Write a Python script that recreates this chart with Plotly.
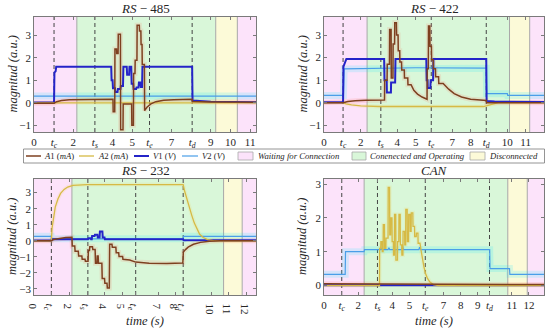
import numpy as np
import plotly.graph_objects as go

W, H = 550, 332

# ---------------- data ----------------
# event times per panel: t_c, t_s, t_e, t_d
RS485_EVENTS = [1.02, 3.10, 5.88, 8.05]
RS422_EVENTS = [1.04, 3.10, 5.85, 8.85]
RS232_EVENTS = [0.98, 3.04, 5.74, 8.42]
CAN_EVENTS = [1.04, 3.13, 5.93, 9.69]

# phase boundaries: waiting | connected & operating | disconnected | waiting
RS485_PHASES = [0, 2.18, 9.25, 10.35, 11.3]
RS422_PHASES = [0, 2.35, 10.12, 11.22, 12.0]
RS232_PHASES = [0, 2.14, 10.70, 11.75, 12.53]
CAN_PHASES = [0, 2.35, 10.76, 11.90, 12.88]

RS485_XTICKS = [0, 2, 4, 5, 7, 9, 10, 11]
RS422_XTICKS = [0, 2, 4, 5, 7, 8, 10, 11]
RS232_XTICKS = [0, 2, 4, 5, 7, 8, 10, 11, 12]
CAN_XTICKS = [0, 2, 4, 5, 7, 8, 9, 11, 12]

RS485_YTICKS = [-1, 0, 1, 2, 3]
RS422_YTICKS = [-1, 0, 1, 2, 3]
RS232_YTICKS = [-3, -2, -1, 0, 1, 2, 3]
CAN_YTICKS = [0, 1, 2, 3]

RS485_YRANGE = [-1.3, 3.82]
RS422_YRANGE = [-1.3, 3.80]
RS232_YRANGE = [-3.38, 3.85]
CAN_YRANGE = [-0.28, 3.15]

EVENT_TEXT = ["<i>t</i><sub><i>c</i></sub>", "<i>t</i><sub><i>s</i></sub>",
              "<i>t</i><sub><i>e</i></sub>", "<i>t</i><sub><i>d</i></sub>"]

# ---- RS-485 ----
RS485_A1 = [(0, -0.02), (1.02, -0.02), (1.15, 0.05), (1.4, 0.1), (1.8, 0.14), (2.3, 0.15),
            (4.02, 0.16), (4.03, -0.4), (4.11, -0.4), (4.12, 2.4), (4.2, 2.4), (4.21, 2.2),
            (4.28, 2.2), (4.29, 3.05), (4.4, 3.05), (4.41, -1.2), (4.53, -1.2), (4.54, -0.05),
            (4.97, -0.05), (4.98, -1.0), (5.06, -1.0), (5.07, 1.3), (5.14, 1.3), (5.15, 1.9),
            (5.24, 1.9), (5.25, 3.45), (5.36, 3.45), (5.37, 3.2), (5.44, 3.2), (5.45, 2.6),
            (5.5, 2.6), (5.51, 1.7), (5.62, 1.7), (5.63, -0.35), (5.75, -0.2), (5.95, -0.05),
            (6.2, 0.05), (6.6, 0.11), (7.1, 0.14), (8.05, 0.16), (8.07, 0.06), (9.0, 0.04),
            (11.3, 0.02)]
RS485_A2 = [(0, 0.0), (1.02, 0.0), (1.2, 0.02), (8.05, 0.02), (8.3, 0.0), (11.3, 0.0)]
RS485_V1 = [(0, 0.01), (1.02, 0.01), (1.04, 1.35), (1.1, 1.4), (1.13, 1.6), (3.93, 1.6),
            (3.95, 1.0), (4.0, 1.0), (4.02, 0.65), (4.12, 0.65), (4.14, 0.48), (4.25, 0.48),
            (4.27, 0.62), (4.4, 0.62), (4.42, 0.75), (4.53, 0.75), (4.55, 1.6), (4.72, 1.6),
            (4.74, 1.25), (4.84, 1.25), (4.86, 1.6), (4.95, 1.6), (4.97, 0.85), (5.05, 0.85),
            (5.07, 0.62), (5.2, 0.62), (5.22, 0.68), (5.32, 0.68), (5.34, 0.9), (5.42, 0.9),
            (5.44, 0.7), (5.5, 0.7), (5.52, 1.6), (8.05, 1.6), (8.07, 0.1), (9.0, 0.05),
            (11.3, 0.03)]
RS485_V2 = [(0, 0.3), (11.3, 0.3)]

# ---- RS-422 ----
RS422_A1 = [(0, 0.0), (1.04, 0.0), (1.3, 0.05), (1.7, 0.09), (2.3, 0.11), (3.3, 0.12),
            (3.31, 1.0), (3.44, 1.0), (3.45, 1.7), (3.57, 1.7), (3.58, 3.25), (3.66, 3.25),
            (3.67, 1.1), (3.76, 1.1), (3.77, 2.6), (3.85, 2.6), (3.86, 3.55), (3.95, 3.55),
            (3.96, 3.0), (4.04, 3.0), (4.05, 2.3), (4.13, 2.3), (4.14, 1.8), (4.23, 1.8),
            (4.24, 1.45), (4.38, 1.45), (4.39, 1.1), (4.57, 1.1), (4.58, 0.8), (4.75, 0.8),
            (4.9, 0.55), (5.1, 0.38), (5.35, 0.25), (5.62, 0.15), (5.63, 1.5), (5.69, 1.5),
            (5.7, 3.4), (5.77, 3.4), (5.78, 2.5), (5.86, 2.5), (5.87, 1.9), (5.96, 1.9),
            (5.97, 1.5), (6.08, 1.5), (6.09, 1.15), (6.25, 1.15), (6.26, 0.85), (6.5, 0.85),
            (6.8, 0.6), (7.1, 0.4), (7.5, 0.25), (8.0, 0.15), (8.85, 0.1), (8.87, 0.0),
            (12.0, 0.0)]
RS422_A2 = [(0, 0.0), (1.04, 0.0), (1.2, -0.05), (1.5, -0.1), (2.0, -0.14), (3.0, -0.17),
            (8.7, -0.17), (9.0, -0.1), (9.3, -0.02), (9.5, 0.0), (12.0, 0.0)]
RS422_V1 = [(0, 0.02), (1.04, 0.02), (1.06, 1.6), (1.15, 1.75), (1.22, 1.94), (3.28, 1.94),
            (3.3, 1.0), (3.42, 1.0), (3.43, 0.45), (3.65, 0.45), (3.66, 0.9), (3.88, 0.9),
            (3.9, 1.94), (5.58, 1.94), (5.6, 1.0), (5.65, 1.0), (5.66, 0.65), (5.8, 0.65),
            (5.82, 1.0), (5.95, 1.0), (5.97, 1.94), (8.85, 1.94), (8.87, 0.08), (9.3, 0.05),
            (12.0, 0.03)]
RS422_V2 = [(0, 0.32), (1.06, 0.32), (1.1, 1.5), (3.0, 1.52), (5.0, 1.55), (8.85, 1.53),
            (8.87, 0.4), (10.0, 0.4), (10.02, 0.32), (12.0, 0.32)]

# ---- RS-232 ----
RS232_A1 = [(0, 0.0), (0.98, 0.0), (1.1, 0.08), (1.4, 0.14), (1.8, 0.2), (2.14, 0.22),
            (2.16, -0.33), (2.3, -0.33), (2.32, -0.65), (2.5, -0.65), (2.52, -0.95),
            (2.7, -0.95), (2.72, -1.15), (2.88, -1.15), (2.9, -1.28), (3.05, -1.28),
            (3.07, -0.6), (3.13, -0.6), (3.15, -0.38), (3.3, -0.38), (3.32, -0.55),
            (3.45, -0.55), (3.47, -1.4), (3.55, -1.4), (3.57, -0.95), (3.62, -0.95),
            (3.64, -1.4), (3.83, -1.4), (3.85, -2.35), (3.98, -2.35), (4.0, -2.65),
            (4.12, -2.65), (4.14, -2.95), (4.25, -2.95), (4.27, -0.22), (4.4, -0.22),
            (4.42, -0.4), (4.62, -0.4), (4.64, -0.75), (4.78, -0.75), (4.8, -0.98),
            (5.0, -0.98), (5.02, -1.15), (5.4, -1.2), (5.74, -1.33), (6.5, -1.4),
            (7.5, -1.42), (8.4, -1.38), (8.43, -0.7), (8.55, -0.55), (8.7, -0.4),
            (9.0, -0.22), (9.4, -0.1), (9.9, -0.03), (10.5, 0.0), (12.53, 0.0)]
RS232_A2 = [(0, 0.0), (0.98, 0.0), (1.02, 0.8), (1.1, 1.5), (1.2, 2.1), (1.35, 2.6),
            (1.5, 2.95), (1.7, 3.2), (1.9, 3.35), (2.2, 3.45), (3.0, 3.5), (6.0, 3.5),
            (8.42, 3.5), (8.5, 3.1), (8.6, 2.7), (8.75, 2.2), (8.9, 1.6), (9.05, 1.1),
            (9.2, 0.7), (9.35, 0.4), (9.55, 0.2), (9.8, 0.07), (10.2, 0.0), (12.53, 0.0)]
RS232_V1 = [(0, 0.02), (0.98, 0.02), (1.0, 0.1), (3.05, 0.1), (3.07, 0.15), (3.2, 0.15),
            (3.22, 0.1), (3.26, 0.1), (3.28, 0.3), (3.42, 0.3), (3.44, 0.38), (3.58, 0.38),
            (3.6, 0.2), (3.7, 0.2), (3.72, 0.58), (3.86, 0.58), (3.88, 0.2), (3.98, 0.2),
            (4.0, 0.1), (8.42, 0.1), (8.44, 0.03), (12.53, 0.03)]
RS232_V2 = [(0, 0.28), (0.98, 0.28), (1.0, 0.12), (8.42, 0.12), (8.44, 0.28), (12.53, 0.28)]

# ---- CAN ----
CAN_A1 = [(0, 0.05), (3.2, 0.05), (5.0, 0.03), (12.88, 0.03)]
CAN_A2 = [(0, 0.0), (3.25, 0.0), (3.26, 1.1), (3.32, 1.1), (3.33, 1.3), (3.4, 1.3),
          (3.41, 1.0), (3.46, 1.0), (3.47, 1.8), (3.54, 1.8), (3.55, 1.1), (3.62, 1.1),
          (3.63, 1.4), (3.75, 1.4), (3.76, 2.9), (3.84, 2.9), (3.85, 1.5), (3.9, 1.5),
          (3.91, 2.0), (3.98, 2.0), (3.99, 1.3), (4.06, 1.3), (4.07, 0.9), (4.12, 0.9),
          (4.13, 2.1), (4.2, 2.1), (4.21, 0.75), (4.3, 0.75), (4.31, 1.3), (4.38, 1.3),
          (4.39, 2.1), (4.46, 2.1), (4.47, 1.2), (4.55, 1.2), (4.56, 0.9), (4.62, 0.9),
          (4.63, 1.6), (4.72, 1.6), (4.73, 1.2), (4.78, 1.2), (4.79, 2.25), (4.87, 2.25),
          (4.88, 1.3), (4.95, 1.3), (4.96, 2.1), (5.04, 2.1), (5.05, 1.6), (5.1, 1.6),
          (5.11, 2.15), (5.2, 2.15), (5.21, 1.75), (5.3, 1.75), (5.31, 1.45), (5.4, 1.45),
          (5.41, 1.55), (5.5, 1.55), (5.51, 1.25), (5.62, 1.25), (5.68, 1.05), (5.75, 0.8),
          (5.85, 0.55), (5.95, 0.35), (6.05, 0.22), (6.2, 0.1), (6.4, 0.03), (6.7, 0.0),
          (12.88, 0.0)]
CAN_V1 = [(0, 0.01), (12.88, 0.01)]
CAN_V2 = [(0, 0.33), (1.24, 0.33), (1.26, 1.0), (2.35, 1.0), (2.37, 1.06), (3.35, 1.06),
          (3.4, 1.12), (3.45, 1.06), (3.75, 1.06), (3.8, 1.12), (3.85, 1.06), (4.55, 1.06),
          (4.6, 1.16), (4.65, 1.06), (5.55, 1.06), (5.6, 1.13), (5.65, 1.06), (9.7, 1.06),
          (9.72, 0.5), (10.86, 0.5), (10.88, 0.33), (12.88, 0.33)]

TITLES = ["<i>RS</i> − 485", "<i>RS</i> − 422", "<i>RS</i> − 232", "<i>CAN</i>"]

# ---------------- styling ----------------
FONT = "Liberation Serif"
TXT = "#262626"
AX = "#7a7a7a"
PHASE_COLORS = ["#fce3fa", "#d9f7d9", "#fcfad8", "#fce3fa"]
LINE_COL = dict(A1="#7e4020", A2="#d6ba45", V1="#2424c8", V2="#4a9ee8")
LINE_W = dict(A1=1.5, A2=1.3, V1=2.0, V2=1.2)
HALO_COL = dict(A1="rgba(255,95,70,0.13)", A2="rgba(250,200,60,0.13)",
                V2="rgba(0,225,255,0.15)")
HALO_W = dict(A1=5, A2=4, V2=7)

X_DOM = [[34 / W, 256 / W], [324 / W, 544 / W]]
Y_DOM = [[1 - 132 / H, 1 - 17 / H], [1 - 295 / H, 1 - 179 / H]]


def split(pairs):
    t = np.array([p[0] for p in pairs], float)
    v = np.array([p[1] for p in pairs], float)
    return t, v


panels = [
    dict(ev=RS485_EVENTS, ph=RS485_PHASES, xt=RS485_XTICKS, yt=RS485_YTICKS, yr=RS485_YRANGE,
         s=dict(A1=RS485_A1, A2=RS485_A2, V1=RS485_V1, V2=RS485_V2), col=0, row=0),
    dict(ev=RS422_EVENTS, ph=RS422_PHASES, xt=RS422_XTICKS, yt=RS422_YTICKS, yr=RS422_YRANGE,
         s=dict(A1=RS422_A1, A2=RS422_A2, V1=RS422_V1, V2=RS422_V2), col=1, row=0),
    dict(ev=RS232_EVENTS, ph=RS232_PHASES, xt=RS232_XTICKS, yt=RS232_YTICKS, yr=RS232_YRANGE,
         s=dict(A1=RS232_A1, A2=RS232_A2, V1=RS232_V1, V2=RS232_V2), col=0, row=1),
    dict(ev=CAN_EVENTS, ph=CAN_PHASES, xt=CAN_XTICKS, yt=CAN_YTICKS, yr=CAN_YRANGE,
         s=dict(A1=CAN_A1, A2=CAN_A2, V1=CAN_V1, V2=CAN_V2), col=1, row=1),
]

fig = go.Figure()
shapes = []
annotations = []
layout = {}

for i, p in enumerate(panels, start=1):
    xs = "x" if i == 1 else f"x{i}"
    ys = "y" if i == 1 else f"y{i}"
    # translucent halos (spread bands)
    for key in ["V2", "A2", "A1"]:
        t, v = split(p["s"][key])
        fig.add_trace(go.Scatter(x=t, y=v, mode="lines", hoverinfo="skip", showlegend=False,
                                 line=dict(color=HALO_COL[key], width=HALO_W[key]),
                                 xaxis=xs, yaxis=ys))
    # lines
    for key in ["V2", "V1", "A2", "A1"]:
        t, v = split(p["s"][key])
        fig.add_trace(go.Scatter(x=t, y=v, mode="lines", showlegend=False,
                                 line=dict(color=LINE_COL[key], width=LINE_W[key]),
                                 xaxis=xs, yaxis=ys, name=key))
    # phases
    ph = p["ph"]
    for k in range(len(ph) - 1):
        shapes.append(dict(type="rect", xref=xs, yref=f"{ys} domain", x0=ph[k], x1=ph[k + 1],
                           y0=0, y1=1, fillcolor=PHASE_COLORS[k], line=dict(width=0),
                           layer="below"))
    for b in ph[1:-1]:
        shapes.append(dict(type="line", xref=xs, yref=f"{ys} domain", x0=b, x1=b, y0=0, y1=1,
                           line=dict(color="#a8a8a8", width=1), layer="below"))
    for e in p["ev"]:
        shapes.append(dict(type="line", xref=xs, yref=f"{ys} domain", x0=e, x1=e, y0=0, y1=1,
                           line=dict(color="#444444", width=1, dash="4px,3px"), layer="below"))
    # axes
    tv = list(p["xt"]) + list(p["ev"])
    tt = [str(x) for x in p["xt"]] + EVENT_TEXT
    order = np.argsort(tv)
    axis_common = dict(showgrid=False, zeroline=False, showline=True, linecolor=AX,
                       linewidth=0.8, mirror="ticks", ticks="inside", ticklen=3,
                       tickcolor=AX, tickwidth=0.8, automargin=False,
                       tickfont=dict(family=FONT, size=11, color=TXT))
    layout["xaxis" if i == 1 else f"xaxis{i}"] = dict(
        domain=X_DOM[p["col"]], range=[ph[0], ph[-1]], anchor=ys,
        tickmode="array", tickvals=[tv[j] for j in order], ticktext=[tt[j] for j in order],
        **axis_common)
    layout["yaxis" if i == 1 else f"yaxis{i}"] = dict(
        domain=Y_DOM[p["row"]], range=p["yr"], anchor=xs,
        tickmode="array", tickvals=p["yt"], ticktext=[str(y).replace("-", "−") for y in p["yt"]],
        **axis_common)
    # titles / axis labels
    xd = X_DOM[p["col"]]
    yd = Y_DOM[p["row"]]
    xc = (xd[0] + xd[1]) / 2
    annotations.append(dict(text=TITLES[i - 1], x=xc, y=yd[1] + 8.5 / H, xref="paper",
                            yref="paper", showarrow=False, xanchor="center", yanchor="middle",
                            font=dict(family=FONT, size=13, color=TXT)))
    annotations.append(dict(text="<i>magnitud (a.u.)</i>", x=xd[0] - 22 / W,
                            y=(yd[0] + yd[1]) / 2, xref="paper", yref="paper", showarrow=False,
                            textangle=-90, xanchor="center", yanchor="middle",
                            font=dict(family=FONT, size=12.5, color=TXT)))
    if p["row"] == 1:
        annotations.append(dict(text="<i>time (s)</i>", x=xc, y=1 - 321 / H, xref="paper",
                                yref="paper", showarrow=False, xanchor="center",
                                yanchor="middle", font=dict(family=FONT, size=12.5, color=TXT)))


# ---------------- custom legend ----------------
def px(x):
    return x / W


def py(y):
    return 1 - y / H


shapes.append(dict(type="rect", xref="paper", yref="paper", x0=px(23.5), x1=px(544.5),
                   y0=py(163), y1=py(149), fillcolor="white", line=dict(color=AX, width=0.8)))
LEG_LINES = [("A1", 26, 41, 42, "<i>A</i>1 (<i>mA</i>)"),
             ("A2", 79, 94, 96, "<i>A</i>2 (<i>mA</i>)"),
             ("V1", 134, 149, 150.5, "<i>V</i>1 (<i>V</i>)"),
             ("V2", 182, 198, 199.5, "<i>V</i>2 (<i>V</i>)")]
LEG_PATCH = [(0, 238, 253, 255.5, "<i>Waiting for Connection</i>"),
             (1, 352, 366, 368, "<i>Conenected and Operating</i>"),
             (2, 470, 485, 487, "<i>Disconnected</i>")]
yl = 156
for key, a, b, tx, label in LEG_LINES:
    shapes.append(dict(type="line", xref="paper", yref="paper", x0=px(a), x1=px(b),
                       y0=py(yl), y1=py(yl), line=dict(color=LINE_COL[key], width=LINE_W[key])))
    annotations.append(dict(text=label, x=px(tx), y=py(yl), xref="paper", yref="paper",
                            showarrow=False, xanchor="left", yanchor="middle",
                            font=dict(family=FONT, size=8.7, color=TXT)))
for k, a, b, tx, label in LEG_PATCH:
    shapes.append(dict(type="rect", xref="paper", yref="paper", x0=px(a), x1=px(b),
                       y0=py(160), y1=py(152), fillcolor=PHASE_COLORS[k],
                       line=dict(color="#a8a8a8", width=0.8)))
    annotations.append(dict(text=label, x=px(tx), y=py(yl), xref="paper", yref="paper",
                            showarrow=False, xanchor="left", yanchor="middle",
                            font=dict(family=FONT, size=8.7, color=TXT)))

fig.update_layout(width=W, height=H, margin=dict(l=0, r=0, t=0, b=0, autoexpand=False),
                  paper_bgcolor="white", plot_bgcolor="white", showlegend=False,
                  shapes=shapes, annotations=annotations, **layout)
fig.write_html("out.html", include_plotlyjs=True, config={"displayModeBar": False},
               post_script="document.body.style.margin='0';document.body.style.padding='0';")
